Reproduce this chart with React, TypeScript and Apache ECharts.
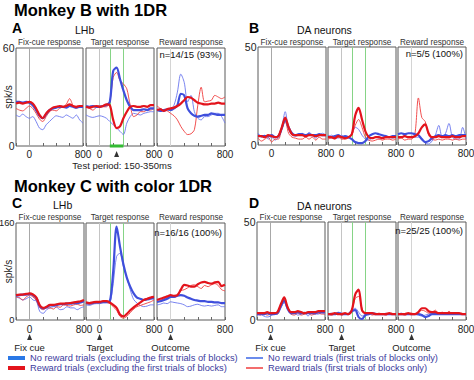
import React, { useEffect, useRef } from 'react';
import * as echarts from 'echarts';

// ---- time axis (ms from event) ----
const T = [-200, -150, -100, -50, 0, 50, 100, 150, 200, 250, 300, 350, 400, 450, 500, 550, 600, 650, 700, 750, 800];
const X_MIN = -200;
const X_MAX = 800;
const X_TICK_LABELS = [0, 800];
const TEST_PERIOD = [150, 350];
const EVENT_TIME = 0;

// ---- Panel A: Monkey B, LHb (0-60 spk/s) ----
const aFixBlue = [27, 27, 26.5, 27, 26.5, 25, 22, 18.5, 17, 19.5, 22, 23, 23.5, 24, 24, 23.5, 24.5, 24, 23.5, 24, 24];
const aFixRed = [26, 26.5, 26, 26.5, 27, 26, 23, 19, 17, 20, 22, 23.5, 24, 24.5, 24, 24.5, 25.5, 24.5, 24, 24.5, 24.5];
const aFixBlueT = [19, 18, 19.5, 18, 17, 18, 15, 11, 10, 13, 15, 17, 18.5, 18, 17.5, 19, 18, 17, 19, 16, 14];
const aFixRedT = [23, 22, 21.5, 23, 24.5, 23, 20, 16.5, 15, 18, 21, 22, 21.5, 23, 24, 25.5, 29, 25, 23, 24, 24];

const aTgtBlue = [24.5, 24, 24.5, 24, 24, 24.5, 25, 27, 46, 48, 41, 34, 28, 24, 22, 22, 22, 22.5, 22, 23, 23];
const aTgtRed = [24, 23.5, 24, 24.5, 24, 24.5, 25.5, 25, 16, 11, 12, 17, 21, 24, 24.5, 24, 24, 24.5, 24, 25, 25];
const aTgtBlueT = [19, 18, 17.5, 18, 18.5, 18, 17, 15, 13, 11, 9, 7, 14, 18, 20, 19.5, 19, 20, 20.5, 21, 21];
const aTgtRedT = [24, 23, 22, 23.5, 24.5, 24, 24, 27, 42, 45, 40, 38, 35, 25, 18, 19, 21, 21, 22, 22, 23];

const aRwdBlue = [22, 21.5, 22, 22.5, 22, 23, 25, 32, 31, 23, 20, 18.5, 18, 18.5, 19, 19, 20, 19.5, 19, 19, 19];
const aRwdRed = [22, 22.5, 21.5, 22.5, 23, 23.5, 24.5, 26, 28, 30, 29.5, 28, 26.5, 26, 25.5, 25.5, 26, 26, 26.5, 26, 26];
const aRwdBlueT = [22, 23, 21, 22, 22.5, 25, 33, 44, 39, 27, 31, 21, 17, 16, 18, 18, 19, 20, 20, 18, 14];
const aRwdRedT = [24.5, 23, 22, 21.5, 20, 18.5, 16, 12, 9, 7, 7.5, 10, 25, 36, 27, 27.5, 28, 31, 30, 29, 30];

// ---- Panel B: Monkey B, DA neurons (0-50 spk/s) ----
const bFixBlue = [5, 4.5, 4.5, 4.5, 5, 4, 4.5, 8.5, 13, 9, 6, 5, 5.5, 5.5, 5, 5.5, 5, 5, 5.5, 5, 5];
const bFixRed = [4.5, 4.5, 4, 5, 4.5, 4, 4.5, 9, 14, 9, 5.5, 5, 5, 5, 4.5, 5, 5, 4.5, 5, 5, 5];
const bFixBlueT = [6, 4, 5, 3, 4, 2.5, 4, 9, 17, 8, 5, 4.5, 5, 6, 4, 6.5, 5, 3.5, 5, 6, 5];
const bFixRedT = [3.5, 2, 3, 4, 1.5, 3, 3, 8, 12, 6, 4, 3.5, 3, 3, 4, 3, 4, 2.5, 4, 3, 3];

const bTgtBlue = [4.5, 4, 4.5, 5, 4, 4.5, 4, 3, 1.5, 1, 1, 2, 4.5, 5.5, 6, 5.5, 5, 4.5, 4, 4.5, 4.5];
const bTgtRed = [4, 4, 3.5, 4.5, 4, 3.5, 4, 5.5, 15, 19, 13, 7, 4, 3.5, 4, 4, 3.5, 4, 4, 4, 4];
const bTgtBlueT = [4, 5, 4, 3.5, 5, 4, 4, 6, 9, 8, 5, 3, 2.5, 3.5, 4, 3.5, 4, 4.5, 4, 3.5, 4];
const bTgtRedT = [3, 3.5, 3, 4, 3, 3, 3.5, 5, 10, 13, 9, 4, 2.5, 2, 2.5, 3, 2.5, 3, 3, 2.5, 3];

const bRwdBlue = [5.5, 6, 5.5, 6, 6, 5.5, 5, 3, 1.5, 2, 3.5, 4.5, 5, 4.5, 5, 4.5, 5, 4.5, 5, 5, 5];
const bRwdRed = [4, 4, 4.5, 4, 4, 4.5, 6, 9, 10.5, 6, 4, 4, 4.5, 4, 4, 4, 4.5, 4, 4, 4.5, 4.5];
const bRwdBlueT = [4, 4, 5, 4, 4.5, 4, 4, 3, 1, 0.5, 2, 5, 10, 4, 6, 11, 4, 3, 3, 9, 3];
const bRwdRedT = [3, 3.5, 2.5, 3, 3, 6, 24, 14, 12, 5, 3, 2.5, 3, 2.5, 3, 3, 2.5, 3, 2.5, 3, 3];

// ---- Panel C: Monkey C, LHb (0-160 spk/s) ----
const cFixBlue = [40, 41, 42, 42, 43, 41, 36, 23, 19, 21, 24, 24, 25, 26, 26, 27, 27, 28, 28, 29, 31];
const cFixRed = [41, 42, 42, 43, 44, 42, 37, 24, 20, 22, 25, 25, 26, 27, 27, 27.5, 28, 29, 30, 31, 33];
const cFixBlueT = [38, 36, 33, 35, 38, 33, 31, 14, 11, 17, 20, 22, 21, 17, 18, 22, 20, 20, 17, 20, 22];
const cFixRedT = [38, 37, 33, 38, 41, 38, 32, 20, 17, 20, 20, 18, 22, 21, 25, 24, 23, 25, 26, 24, 25];

const cTgtBlue = [28, 27, 28, 29, 29, 30, 30, 31, 80, 154, 121, 92, 70, 55, 44, 37, 35, 33, 34, 35, 36];
const cTgtRed = [29, 28, 29, 30, 30, 31, 31, 29, 25, 20, 9, 6, 10, 16, 21, 25, 29, 33, 35, 37, 38];
const cTgtBlueT = [25, 24, 26, 27, 27, 28, 28, 29, 60, 105, 110, 88, 70, 50, 34, 28, 24, 22, 23, 25, 25];
const cTgtRedT = [27, 26, 27, 28, 28, 29, 29, 27, 22, 16, 6, 3, 6, 12, 18, 22, 24, 26, 28, 30, 33];

const cRwdBlue = [30, 31, 33, 35, 38, 38, 40, 41, 40, 37, 35, 33, 32, 31, 31, 30, 30, 29, 29, 28, 28];
const cRwdRed = [33, 35, 37, 39, 41, 40, 41, 50, 58, 57, 55, 55, 59, 62, 63, 61, 60, 62, 63, 56, 58];
const cRwdBlueT = [25, 26, 28, 27, 30, 29, 28, 27, 25, 22, 23, 25, 26, 24, 23, 24, 23, 24, 25, 22, 22];
const cRwdRedT = [30, 32, 35, 37, 38, 37, 40, 48, 50, 53, 57, 58, 55, 52, 57, 55, 58, 60, 57, 50, 48];

// ---- Panel D: Monkey C, DA neurons (0-50 spk/s) ----
const dFixBlue = [3, 3, 3, 3.5, 3, 3, 3.5, 7, 10, 6, 3.5, 3.5, 4, 3.5, 3.5, 3.5, 3.5, 3.5, 4, 4, 4];
const dFixRed = [3.5, 3.5, 3.5, 4, 3.5, 3.5, 4, 8, 11.5, 6.5, 4, 4, 4.5, 4, 3.5, 4, 4, 4, 4.5, 4.5, 4.5];
const dFixBlueT = [2.5, 3, 2, 1.5, 2, 3, 3, 6, 9, 5, 3, 3.5, 2.5, 3, 4, 2, 3.5, 3, 3, 3.5, 3];
const dFixRedT = [3, 2.5, 3.5, 2.5, 3, 3.5, 3, 7, 10, 6, 3, 2.5, 3.5, 2.5, 3, 3.5, 2.5, 3, 3.5, 3, 3];

const dTgtBlue = [3, 3, 3, 3.5, 3, 3, 3, 4.5, 5, 1.5, 0.5, 2.5, 3, 3.5, 3, 3, 3, 3, 3, 3, 3];
const dTgtRed = [3, 3, 3.5, 3, 3, 3.5, 3, 5, 13, 15.5, 5, 3.5, 3.5, 3.5, 3, 3, 3, 3, 3.5, 3, 3];
const dTgtBlueT = [3, 3.5, 3, 4, 3.5, 3, 3.5, 5, 6, 4, 2, 3, 3.5, 3, 3.5, 3, 3, 3.5, 3, 3, 3];
const dTgtRedT = [3, 2.5, 3, 3.5, 2.5, 3, 3, 5, 11, 12, 6, 3, 3.5, 2.5, 3, 3.5, 3, 2.5, 3, 3, 3];

const dRwdBlue = [3, 3, 3, 3, 3, 3, 3, 2.5, 1.5, 2, 3, 3, 3, 3, 3, 3, 3, 3, 3, 3, 3];
const dRwdRed = [3, 3, 3, 3.5, 3, 3, 4, 6, 6, 4.5, 4, 4, 3.5, 3.5, 3.5, 3.5, 3.5, 3.5, 3.5, 3, 3];
const dRwdBlueT = [3, 3.5, 3, 3, 3, 3, 2.5, 2, 2.5, 3, 3.5, 3, 3, 3.5, 3, 3, 3, 3, 3, 3, 3];
const dRwdRedT = [3.5, 3, 2.5, 3, 3.5, 3, 4, 5, 4.5, 3.5, 4, 5, 3, 4, 3, 4.5, 3, 3.5, 3, 3, 3];

// ---- texts ----
const SUBTITLES = ['Fix-cue response', 'Target response', 'Reward response'];
const EVENT_NAMES = ['Fix cue', 'Target', 'Outcome'];
const L_NR = 'No reward trials (excluding the first trials of blocks)';
const L_R = 'Reward trials (excluding the first trials of blocks)';
const L_NR1 = 'No reward trials (first trials of blocks only)';
const L_R1 = 'Reward trials (first trials of blocks only)';

const FONT = '"Liberation Sans", Arial, Helvetica, sans-serif';
const BLUE = '#3f4fdc';
const BLUE_T = '#6a76ee';
const RED = '#e3141c';
const RED_T = '#ef3c3c';

const LAYOUT = [
  {
    letter: 'A', area: 'LHb', yMax: 60, yFont: 10.5, top: 48, height: 98, lefts: [16, 86, 157], widths: [67, 68, 68],
    n: 'n=14/15 (93%)', nDy: 6, spk: true, events: false, testPeriod: true,
    letterXY: [12, 28], areaXY: [75, 30], subY: 42,
    data: [[aFixBlue, aFixRed, aFixBlueT, aFixRedT], [aTgtBlue, aTgtRed, aTgtBlueT, aTgtRedT], [aRwdBlue, aRwdRed, aRwdBlueT, aRwdRedT]],
  },
  {
    letter: 'B', area: 'DA neurons', yMax: 50, yFont: 10.5, top: 47, height: 98, lefts: [258, 328, 398], widths: [68, 68, 68],
    n: 'n=5/5 (100%)', nDy: 6, spk: false, events: false, testPeriod: false,
    letterXY: [249, 28], areaXY: [297, 30], subY: 42,
    data: [[bFixBlue, bFixRed, bFixBlueT, bFixRedT], [bTgtBlue, bTgtRed, bTgtBlueT, bTgtRedT], [bRwdBlue, bRwdRed, bRwdBlueT, bRwdRedT]],
  },
  {
    letter: 'C', area: 'LHb', yMax: 160, yFont: 9.3, top: 223, height: 97, lefts: [16, 86, 157], widths: [68, 68, 68],
    n: 'n=16/16 (100%)', nDy: 9, spk: true, events: true, testPeriod: false,
    letterXY: [12, 203], areaXY: [53, 205], subY: 217,
    data: [[cFixBlue, cFixRed, cFixBlueT, cFixRedT], [cTgtBlue, cTgtRed, cTgtBlueT, cTgtRedT], [cRwdBlue, cRwdRed, cRwdBlueT, cRwdRedT]],
  },
  {
    letter: 'D', area: 'DA neurons', yMax: 50, yFont: 10.5, top: 222, height: 98, lefts: [257, 328, 398], widths: [68, 68, 68],
    n: 'n=25/25 (100%)', nDy: 8, spk: false, events: true, testPeriod: false,
    letterXY: [249, 203], areaXY: [297, 206], subY: 217,
    data: [[dFixBlue, dFixRed, dFixBlueT, dFixRedT], [dTgtBlue, dTgtRed, dTgtBlueT, dTgtRedT], [dRwdBlue, dRwdRed, dRwdBlueT, dRwdRedT]],
  },
];

const LINE_STYLES = [
  { name: L_NR, color: BLUE, width: 2.2, z: 4 },
  { name: L_R, color: RED, width: 2.2, z: 5 },
  { name: L_NR1, color: BLUE_T, width: 0.9, z: 2 },
  { name: L_R1, color: RED_T, width: 0.9, z: 3 },
];

function eventLines(sub: number) {
  if (sub === 0) return [{ xAxis: EVENT_TIME, lineStyle: { color: '#a8a8a8', width: 1, type: 'solid' } }];
  if (sub === 1)
    return [
      { xAxis: EVENT_TIME, lineStyle: { color: '#c4c4c4', width: 1, type: 'solid' } },
      { xAxis: TEST_PERIOD[0], lineStyle: { color: '#86d486', width: 1, type: 'solid' } },
      { xAxis: TEST_PERIOD[1], lineStyle: { color: '#86d486', width: 1, type: 'solid' } },
    ];
  return [{ xAxis: EVENT_TIME, lineStyle: { color: '#d4d4d4', width: 1, type: 'solid' } }];
}

const txt = (x: number, y: number, text: string, size: number, opts: any = {}) => ({
  type: 'text', x, y, silent: true, z: 100,
  style: {
    text, fontSize: size, fontFamily: FONT, fill: opts.fill || '#111',
    fontWeight: opts.weight || 'normal', align: opts.align || 'left', verticalAlign: opts.va || 'middle',
  },
});

function buildOption() {
  const grid: any[] = [];
  const xAxis: any[] = [];
  const yAxis: any[] = [];
  const series: any[] = [];
  const graphic: any[] = [];
  let gi = 0;
  let xi = 0;

  graphic.push(txt(14, 10, 'Monkey B with 1DR', 16.5, { weight: 'bold', fill: '#000' }));
  graphic.push(txt(14, 186, 'Monkey C with color 1DR', 16.5, { weight: 'bold', fill: '#000' }));

  const xBase = (gridIndex: number) => ({
    type: 'value', gridIndex, min: X_MIN, max: X_MAX, interval: 200, position: 'bottom',
    axisLine: { show: false }, splitLine: { show: false },
  });

  LAYOUT.forEach((p) => {
    graphic.push(txt(p.letterXY[0], p.letterXY[1], p.letter, 14, { weight: 'bold', fill: '#000' }));
    graphic.push(txt(p.areaXY[0], p.areaXY[1], p.area, 10.5));
    p.lefts.forEach((left, s) => {
      const width = p.widths[s];
      grid.push({
        left, top: p.top, width, height: p.height, show: true, containLabel: false,
        outerBoundsMode: 'none',
        borderColor: '#5a5a5a', borderWidth: 1, backgroundColor: 'transparent',
      });
      graphic.push(txt(left + width / 2, p.subY, SUBTITLES[s], 8.2, { align: 'center', fill: '#333' }));
      const mainX = xi;
      xAxis.push({
        ...xBase(gi),
        axisTick: { show: true, inside: true, length: 3, lineStyle: { color: '#666' } },
        axisLabel: {
          show: true, fontSize: 10, color: '#222', fontFamily: FONT, margin: p.events ? 4.5 : 3.5,
          showMinLabel: true, showMaxLabel: true, hideOverlap: false,
          formatter: (v: number) => (X_TICK_LABELS.includes(v) ? String(v) : ''),
        },
      });
      xi++;
      if (p.events) {
        xAxis.push({
          ...xBase(gi), offset: 20,
          axisTick: { show: false },
          axisLabel: {
            show: true, fontSize: 9.5, color: '#222', fontFamily: FONT, margin: 2,
            showMinLabel: true, showMaxLabel: true, hideOverlap: false,
            formatter: (v: number) => (v === EVENT_TIME ? EVENT_NAMES[s] : ''),
          },
        });
        xi++;
      }
      yAxis.push({
        type: 'value', gridIndex: gi, min: 0, max: p.yMax, interval: p.yMax,
        axisLine: { show: false }, axisTick: { show: false }, splitLine: { show: false },
        axisLabel: { show: s === 0, fontSize: p.yFont, color: '#222', fontFamily: FONT, margin: 1.5 },
        name: s === 0 && p.spk ? 'spk/s' : '', nameLocation: 'middle', nameGap: 3, nameRotate: 90,
        nameMoveOverlap: false,
        nameTextStyle: { fontSize: 10, color: '#222', fontFamily: FONT },
      });
      const order = [2, 3, 0, 1];
      order.forEach((k, idx) => {
        const st = LINE_STYLES[k];
        const vals = p.data[s][k];
        series.push({
          type: 'line', name: st.name, xAxisIndex: mainX, yAxisIndex: gi,
          data: T.map((t, i) => [t, vals[i]]),
          showSymbol: false, symbol: 'none', smooth: 0.3, z: st.z,
          lineStyle: { color: st.color, width: st.width },
          itemStyle: { color: st.color },
          markLine: idx === 0
            ? { silent: true, symbol: ['none', 'none'], label: { show: false }, data: eventLines(s), z: 1 }
            : undefined,
        });
      });
      if (p.events) {
        series.push({
          type: 'scatter', name: 'event marker', xAxisIndex: mainX, yAxisIndex: gi,
          data: [[EVENT_TIME, 0]], symbol: 'triangle',
          symbolSize: [5, 6], symbolOffset: [0, 17], clip: false, z: 10, itemStyle: { color: '#000' },
        });
      }
      if (p.testPeriod && s === 1) {
        series.push({
          type: 'line', name: 'test period', xAxisIndex: mainX, yAxisIndex: gi,
          data: TEST_PERIOD.map((t) => [t, 0]), symbol: 'none', clip: false, z: 10,
          lineStyle: { color: '#33bb33', width: 3 },
        });
        series.push({
          type: 'scatter', name: 'test marker', xAxisIndex: mainX, yAxisIndex: gi,
          data: [[(TEST_PERIOD[0] + TEST_PERIOD[1]) / 2, 0]], symbol: 'triangle',
          symbolSize: [5, 6], symbolOffset: [0, 8], clip: false, z: 10, itemStyle: { color: '#000' },
        });
      }
      if (s === 2) {
        graphic.push(txt(left + width - 3, p.top + p.nDy, p.n, 9.5, { align: 'right', fill: '#111' }));
      }
      gi++;
    });
  });

  graphic.push(txt(122, 165, 'Test period: 150-350ms', 9.5, { align: 'center', fill: '#222' }));

  const legendBase = {
    orient: 'vertical', itemGap: 0, icon: 'rect', itemWidth: 17, selectedMode: false,
    textStyle: { color: '#3b3b9e', fontSize: 9.3, fontFamily: FONT, lineHeight: 10 },
    padding: 0,
  };

  return {
    animation: false,
    backgroundColor: '#fff',
    grid, xAxis, yAxis, series, graphic,
    legend: [
      {
        ...legendBase, left: 8, top: 353, itemHeight: 4,
        data: [{ name: L_NR, itemStyle: { color: '#2a78e6' } }, { name: L_R, itemStyle: { color: RED } }],
      },
      {
        ...legendBase, left: 246, top: 353, itemHeight: 1.5,
        data: [{ name: L_NR1, itemStyle: { color: '#3a66e6' } }, { name: L_R1, itemStyle: { color: RED_T } }],
      },
    ],
  };
}

export default function App() {
  const ref = useRef<HTMLDivElement>(null);
  useEffect(() => {
    if (!ref.current) return;
    const chart = echarts.init(ref.current, null, { renderer: 'svg' });
    chart.setOption(buildOption() as any);
    return () => chart.dispose();
  }, []);
  return (
    <div
      ref={ref}
      style={{ position: 'absolute', left: 0, top: 0, width: 474, height: 380, background: '#fff' }}
    />
  );
}
